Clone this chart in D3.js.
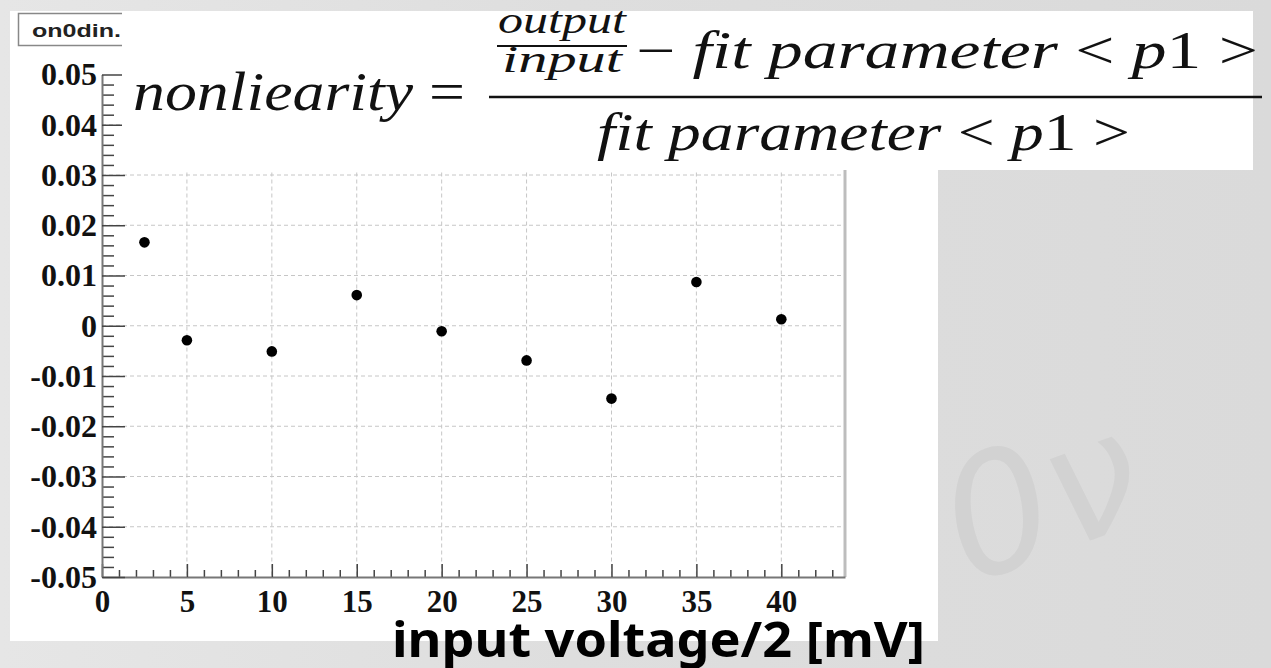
<!DOCTYPE html>
<html>
<head>
<meta charset="utf-8">
<script src="https://cdn.jsdelivr.net/npm/d3@7"></script>
<style>
	body { margin: 0; background: #dcdcdc; }
</style>
</head>
<body>
<div id="grafico"></div>
<script>
// Data
var inputVoltage = [2.5, 5, 10, 15, 20, 25, 30, 35, 40];
var nonlinearity = [0.0166, -0.0029, -0.0051, 0.0061, -0.0011, -0.0069, -0.0145, 0.0087, 0.0013];
var xTicks = [0, 5, 10, 15, 20, 25, 30, 35, 40];
var xTickLabels = ["0", "5", "10", "15", "20", "25", "30", "35", "40"];
var yTicks = [0.05, 0.04, 0.03, 0.02, 0.01, 0, -0.01, -0.02, -0.03, -0.04, -0.05];
var yTickLabels = ["0.05", "0.04", "0.03", "0.02", "0.01", "0", "-0.01", "-0.02", "-0.03", "-0.04", "-0.05"];

var width = 1271, height = 668;
var frame = {left: 102, right: 845, top: 74.5, bottom: 577};

var svg = d3.select("#grafico")
	.append("svg")
	.attr("width", width)
	.attr("height", height);

// background: light grey slide with a faint watermark
var grad = svg.append("defs").append("linearGradient")
	.attr("id", "bg")
	.attr("x1", 0).attr("x2", 1).attr("y1", 0).attr("y2", 0);
grad.append("stop").attr("offset", 0).attr("stop-color", "#e6e6e6");
grad.append("stop").attr("offset", 0.45).attr("stop-color", "#dedede");
grad.append("stop").attr("offset", 1).attr("stop-color", "#dadada");

svg.append("rect").attr("width", width).attr("height", height).attr("fill", "url(#bg)");
svg.append("text")
	.attr("transform", "translate(968,585) rotate(-20)")
	.attr("font-family", "DejaVu Sans")
	.attr("font-style", "italic")
	.attr("font-size", 165)
	.attr("fill", "#d2d2d2")
	.text("0ν");

// white ROOT canvas
svg.append("rect")
	.attr("x", 10).attr("y", 11)
	.attr("width", 928).attr("height", 630)
	.attr("fill", "#ffffff");

var x = d3.scaleLinear()
	.domain([0, 43.75])
	.range([frame.left, frame.right]);

var y = d3.scaleLinear()
	.domain([-0.05, 0.05])
	.range([frame.bottom, frame.top]);

// grid
var grid = svg.append("g")
	.attr("stroke", "#c6c6c6")
	.attr("stroke-width", 1)
	.attr("stroke-dasharray", "4,3");

grid.selectAll(".vgrid")
	.data(xTicks.slice(1))
	.enter()
	.append("line")
	.attr("x1", function (d) { return x(d); })
	.attr("x2", function (d) { return x(d); })
	.attr("y1", frame.top)
	.attr("y2", frame.bottom);

grid.selectAll(".hgrid")
	.data(yTicks.slice(1, -1))
	.enter()
	.append("line")
	.attr("x1", frame.left)
	.attr("x2", frame.right)
	.attr("y1", function (d) { return y(d); })
	.attr("y2", function (d) { return y(d); });

// right edge of the frame
svg.append("line")
	.attr("x1", frame.right).attr("x2", frame.right)
	.attr("y1", frame.top).attr("y2", frame.bottom)
	.attr("stroke", "#bdbdbd")
	.attr("stroke-width", 3);

// minor ticks
var xMinor = d3.range(0, 44, 1).filter(function (d) { return d % 5 != 0; });
var yMinor = d3.range(-0.05, 0.0501, 0.002).filter(function (d) { return Math.abs(Math.round(d * 100) - d * 100) > 0.01; });

svg.append("g")
	.attr("transform", "translate(0," + frame.bottom + ")")
	.call(d3.axisBottom(x).tickValues(xMinor).tickSize(-7).tickSizeOuter(0).tickFormat(""))
	.call(function (g) { g.select(".domain").remove(); })
	.selectAll("line").attr("stroke", "#444").attr("stroke-width", 1.5);

svg.append("g")
	.attr("transform", "translate(" + frame.left + ",0)")
	.call(d3.axisLeft(y).tickValues(yMinor).tickSize(-12).tickSizeOuter(0).tickFormat(""))
	.call(function (g) { g.select(".domain").remove(); })
	.selectAll("line").attr("stroke", "#444").attr("stroke-width", 1.5);

// major ticks and labels
var xAxis = svg.append("g")
	.attr("class", "xAxis")
	.attr("transform", "translate(0," + frame.bottom + ")")
	.call(d3.axisBottom(x)
		.tickValues(xTicks)
		.tickSize(-13)
		.tickSizeOuter(0)
		.tickPadding(13)
		.tickFormat(function (d, i) { return xTickLabels[i]; }));

xAxis.select(".domain").attr("stroke", "#777").attr("stroke-width", 2);
xAxis.selectAll(".tick line").attr("stroke", "#444").attr("stroke-width", 1.5);
xAxis.selectAll(".tick text")
	.attr("fill", "#111")
	.attr("font-family", "Liberation Serif")
	.attr("font-weight", "bold")
	.attr("font-size", 31);

var yAxis = svg.append("g")
	.attr("class", "yAxis")
	.attr("transform", "translate(" + frame.left + ",0)")
	.call(d3.axisLeft(y)
		.tickValues(yTicks)
		.tickSize(-23)
		.tickSizeOuter(0)
		.tickPadding(5)
		.tickFormat(function (d, i) { return yTickLabels[i]; }));

yAxis.select(".domain").attr("stroke", "#777").attr("stroke-width", 2);
yAxis.selectAll(".tick line").attr("stroke", "#444").attr("stroke-width", 1.5);
yAxis.selectAll(".tick text")
	.attr("fill", "#111")
	.attr("font-family", "Liberation Serif")
	.attr("font-weight", "bold")
	.attr("font-size", 32);

// points
svg.append("g")
	.selectAll("circle")
	.data(inputVoltage)
	.enter()
	.append("circle")
	.attr("cx", function (d) { return x(d); })
	.attr("cy", function (d, i) { return y(nonlinearity[i]); })
	.attr("r", 5.3)
	.attr("fill", "#000");

// title box of the canvas (cut by the formula box)
svg.append("rect")
	.attr("x", 18.5).attr("y", 13.5)
	.attr("width", 110).attr("height", 32)
	.attr("fill", "#fff")
	.attr("stroke", "#888")
	.attr("stroke-width", 1.5);
svg.append("text")
	.attr("x", 32).attr("y", 37)
	.attr("font-family", "Liberation Sans")
	.attr("font-weight", "bold")
	.attr("font-size", 18)
	.attr("textLength", 89)
	.attr("lengthAdjust", "spacingAndGlyphs")
	.attr("fill", "#222")
	.text("on0din.");

// formula pasted on top
svg.append("rect")
	.attr("x", 122).attr("y", 11)
	.attr("width", 1131).attr("height", 159)
	.attr("fill", "#fff");

var math = svg.append("g")
	.attr("font-family", "Liberation Serif")
	.attr("fill", "#111");

function mathText(px, py, size, len, parts) {
	var t = math.append("text")
		.attr("x", px).attr("y", py)
		.attr("font-size", size)
		.attr("textLength", len)
		.attr("lengthAdjust", "spacingAndGlyphs");
	parts.forEach(function (p) {
		t.append("tspan")
			.attr("font-style", p[1] ? "italic" : "normal")
			.text(p[0]);
	});
}

mathText(133, 110, 54, 332, [["nonliearity", 1], [" =", 0]]);
mathText(498, 33, 37, 128, [["output", 1]]);
mathText(502, 72, 37, 120, [["input", 1]]);
mathText(636, 68, 52, 622, [["− ", 0], ["fit parameter ", 1], ["< ", 0], ["p", 1], ["1 >", 0]]);
mathText(597, 150, 52, 533, [["fit parameter ", 1], ["< ", 0], ["p", 1], ["1 >", 0]]);

math.append("line")
	.attr("x1", 497).attr("x2", 627)
	.attr("y1", 46).attr("y2", 46)
	.attr("stroke", "#111").attr("stroke-width", 2);
math.append("line")
	.attr("x1", 489).attr("x2", 1262)
	.attr("y1", 97).attr("y2", 97)
	.attr("stroke", "#111").attr("stroke-width", 2.5);

// axis title
svg.append("text")
	.attr("x", 392).attr("y", 657)
	.attr("font-family", "Noto Sans")
	.attr("font-weight", "bold")
	.attr("font-size", 48)
	.attr("textLength", 533)
	.attr("lengthAdjust", "spacingAndGlyphs")
	.attr("fill", "#000")
	.text("input voltage/2 [mV]");
</script>
</body>
</html>
